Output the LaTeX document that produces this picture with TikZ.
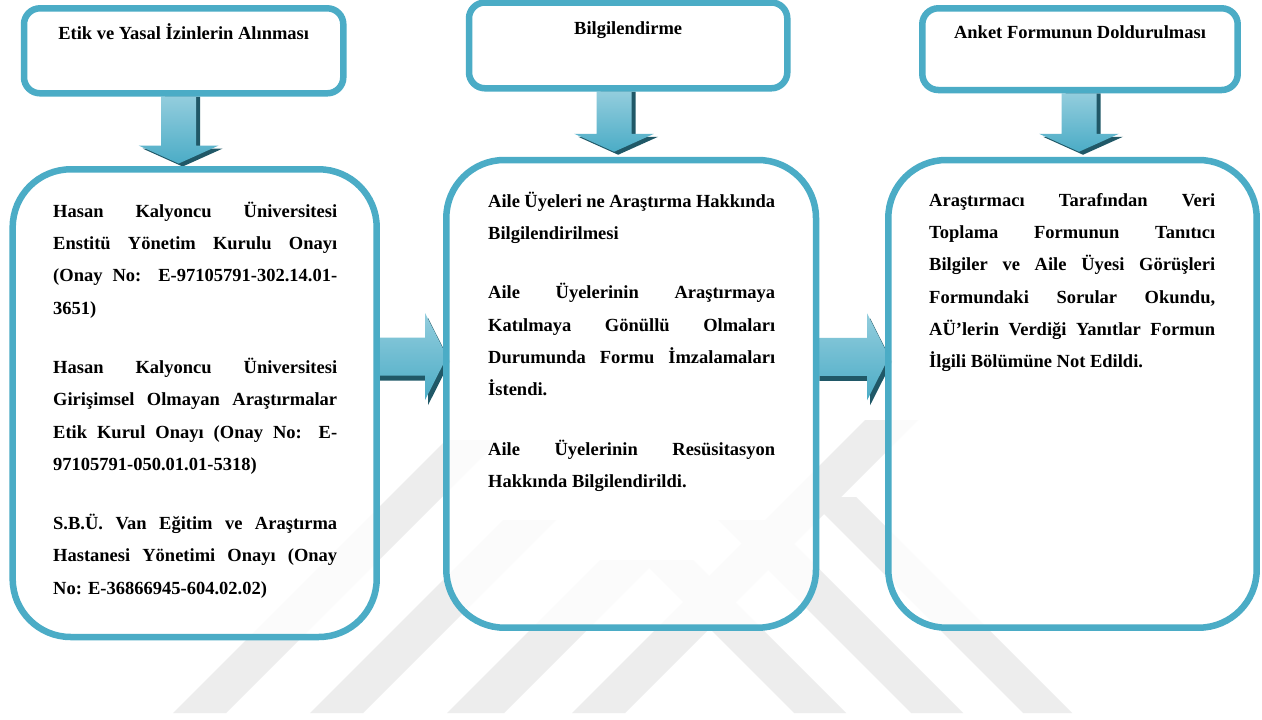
\documentclass[tikz,border=0pt]{standalone}
\usepackage{fontspec}
\setmainfont{Liberation Serif}
\usetikzlibrary{calc}
\definecolor{acc}{HTML}{4BACC6}
\definecolor{accL}{HTML}{93CDDD}
\definecolor{accD}{HTML}{205867}
\definecolor{wm}{HTML}{EDEDED}
\pgfdeclarelayer{bg}
\pgfdeclarelayer{mid}
\pgfsetlayers{bg,mid,main}
\tikzset{
  topbox/.style={rectangle, draw=acc, line width=6.5pt, rounded corners=16pt, inner sep=0pt},
  bigbox/.style={rectangle, draw=acc, line width=6.5pt, rounded corners=58pt, inner sep=0pt, fill=white, fill opacity=0.82, draw opacity=1},
  ttl/.style={font=\fontsize{18.5}{22}\selectfont\bfseries, anchor=base, inner sep=0pt},
  bodytext/.style={font=\fontsize{18.5}{32.3}\selectfont\bfseries, align=left, anchor=north west, inner sep=0pt},
  arrshadow/.style={fill=accD},
  arrbody/.style={top color=accL, bottom color=acc},
  arrbodyR/.style={top color=accL, middle color=acc, bottom color=acc},
  wmband/.style={fill=wm}
}
\newcommand\jl[2]{\makebox[#1][s]{#2}}
\newcommand\dnarrow[2]{%
  \fill[arrshadow] let \p1=(#1), \p2=(#2) in
    ({\x1+4pt-17.5pt},{\y1}) -- ({\x1+4pt+17.5pt},{\y1}) -- ({\x1+4pt+17.5pt},{\y2+15pt})
    -- ({\x1+4pt+40pt},{\y2+15pt}) -- ({\x1+4pt},{\y2-3pt}) -- ({\x1+4pt-40pt},{\y2+15pt})
    -- ({\x1+4pt-17.5pt},{\y2+15pt}) -- cycle;
  \shade[arrbody] let \p1=(#1), \p2=(#2) in
    ({\x1-17.5pt},{\y1}) -- ({\x1+17.5pt},{\y1}) -- ({\x1+17.5pt},{\y2+18pt})
    -- ({\x1+40pt},{\y2+18pt}) -- ({\x1},{\y2}) -- ({\x1-40pt},{\y2+18pt})
    -- ({\x1-17.5pt},{\y2+18pt}) -- cycle;}
\newcommand\rtarrow[2]{%
  \fill[arrshadow] let \p1=(#1), \p2=(#2) in
    ({\x1},{\y1+19pt-5pt}) -- ({\x2-22pt+3pt},{\y1+19pt-5pt}) -- ({\x2-22pt+3pt},{\y1+43.5pt-5pt})
    -- ({\x2+3pt},{\y1-5pt}) -- ({\x2-22pt+3pt},{\y1-43.5pt-5pt}) -- ({\x2-22pt+3pt},{\y1-19pt-5pt})
    -- ({\x1},{\y1-19pt-5pt}) -- cycle;
  \shade[arrbodyR] let \p1=(#1), \p2=(#2) in
    ({\x1},{\y1+19pt}) -- ({\x2-22pt},{\y1+19pt}) -- ({\x2-22pt},{\y1+43.5pt})
    -- ({\x2},{\y1}) -- ({\x2-22pt},{\y1-43.5pt}) -- ({\x2-22pt},{\y1-19pt})
    -- ({\x1},{\y1-19pt}) -- cycle;}
\begin{document}
\begin{tikzpicture}[x=1pt,y=-1pt]
\useasboundingbox (0,0) rectangle (1262,720);
\begin{pgfonlayer}{bg}
  \fill[white] (0,0) rectangle (1262,720);
  % watermark bands
  \fill[wmband] (173,713) -- (226,713) -- (499,440) -- (446,440) -- cycle;
  \fill[wmband] (310,713) -- (363,713) -- (556,520) -- (503,520) -- cycle;
  \fill[wmband] (447,713) -- (504,713) -- (657,560) -- (600,560) -- cycle;
  \fill[wmband] (572,713) -- (625,713) -- (918,420) -- (865,420) -- cycle;
  \fill[wmband] (1023,713) -- (1072,713) -- (856,497) -- (807,497) -- cycle;
  \fill[wmband] (911,713) -- (963,713) -- (770,520) -- (718,520) -- cycle;
  \fill[wmband] (794,713) -- (846,713) -- (693,560) -- (641,560) -- cycle;
\end{pgfonlayer}

% top boxes
\node[topbox, minimum width=319.3pt, minimum height=85pt] (t1) at (183.65,50.8) {};
\node[topbox, minimum width=318.3pt, minimum height=85.8pt] (t2) at (628.15,45.4) {};
\node[topbox, minimum width=315.4pt, minimum height=81.7pt] (t3) at (1080,49.15) {};
\node[ttl] (t1l) at ($(t1.north)+(0,34.4)$) {Etik ve Yasal İzinlerin Alınması};
\node[ttl] (t2l) at ($(t2.north)+(0,35.2)$) {Bilgilendirme};
\node[ttl] (t3l) at ($(t3.north)+(0,33.4)$) {Anket Formunun Doldurulması};

% big boxes
\node[bigbox, minimum width=364pt, minimum height=467.7pt] (A) at (194.7,403.15) {};
\node[bigbox, minimum width=369.7pt, minimum height=467.7pt] (B) at (631.15,393.85) {};
\node[bigbox, minimum width=368.4pt, minimum height=467.7pt] (C) at (1072.5,393.85) {};

\node[bodytext] (Atext) at (53,194.4) {\strut\jl{284pt}{Hasan Kalyoncu Üniversitesi}\\
\jl{284pt}{Enstitü Yönetim Kurulu Onayı}\\
\jl{284pt}{(Onay No: E-97105791-302.14.01-}\\
3651)\\[27pt]
\jl{284pt}{Hasan Kalyoncu Üniversitesi}\\
\jl{284pt}{Girişimsel Olmayan Araştırmalar}\\
\jl{284pt}{Etik Kurul Onayı (Onay No: E-}\\
97105791-050.01.01-5318)\\[27pt]
\jl{284pt}{S.B.Ü. Van Eğitim ve Araştırma}\\
\jl{284pt}{Hastanesi Yönetimi Onayı (Onay}\\
No: E-36866945-604.02.02)};

\node[bodytext] (Btext) at (488,184.4) {\strut\jl{287pt}{Aile Üyeleri ne Araştırma Hakkında}\\
Bilgilendirilmesi\\[27pt]
\jl{287pt}{Aile Üyelerinin Araştırmaya}\\
\jl{287pt}{Katılmaya Gönüllü Olmaları}\\
\jl{287pt}{Durumunda Formu İmzalamaları}\\
İstendi.\\[27pt]
\jl{287pt}{Aile Üyelerinin Resüsitasyon}\\
Hakkında Bilgilendirildi.};

\node[bodytext] (Ctext) at (929,183.4) {\strut\jl{286pt}{Araştırmacı Tarafından Veri}\\
\jl{286pt}{Toplama Formunun Tanıtıcı}\\
\jl{286pt}{Bilgiler ve Aile Üyesi Görüşleri}\\
\jl{286pt}{Formundaki Sorular Okundu,}\\
\jl{286pt}{AÜ’lerin Verdiği Yanıtlar Formun}\\
İlgili Bölümüne Not Edildi.};

% block arrows (under the box borders)
\begin{pgfonlayer}{mid}
  \dnarrow{$(t1.south)+(-5,0)$}{$(A.north)+(0,-2.5)$}
  \dnarrow{$(t2.south)+(-14,0)$}{$(B.north)+(0,-5)$}
  \dnarrow{$(t3.south)+(-1,0)$}{$(C.north)+(0,-5)$}
  \rtarrow{$(A.east)+(0,-46.6)$}{$(B.west)+(4,0)$}
  \rtarrow{$(B.east)+(0,-37)$}{$(C.west)+(4,0)$}
\end{pgfonlayer}
\end{tikzpicture}
\end{document}
